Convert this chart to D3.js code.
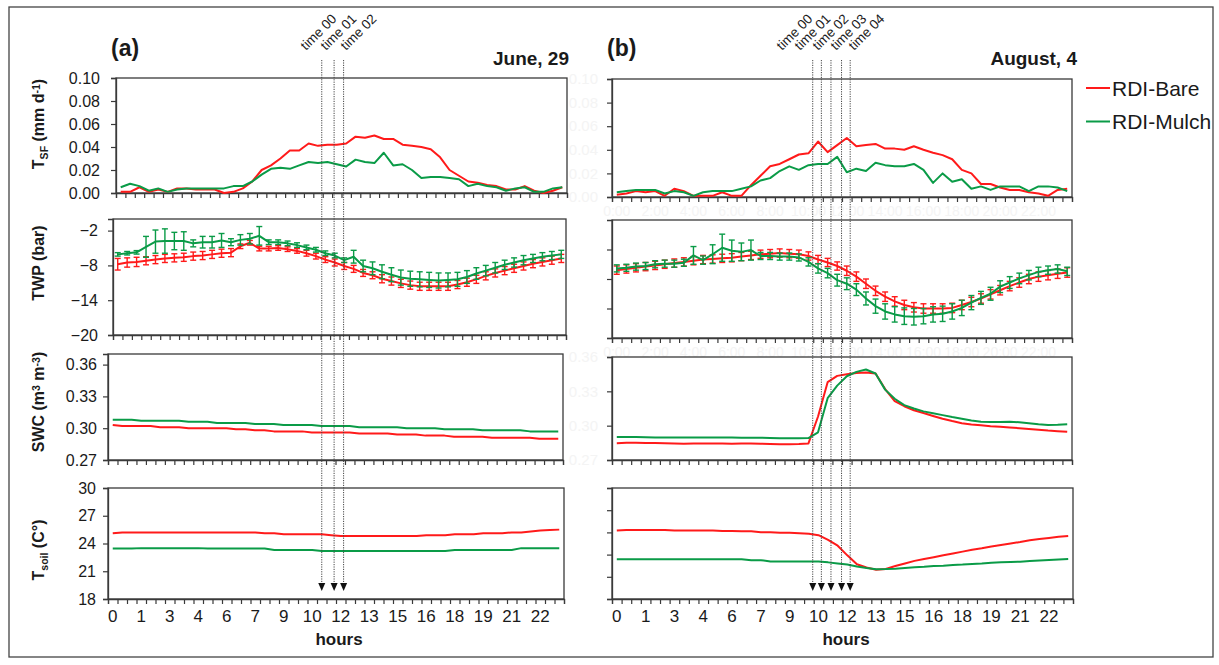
<!DOCTYPE html>
<html>
<head>
<meta charset="utf-8">
<script src="https://cdn.jsdelivr.net/npm/d3@7"></script>
<style>
  body { margin: 0; background: #fff; }
  svg { display: block; font-family: "Liberation Sans", Arial, Helvetica, sans-serif; }
</style>
</head>
<body>
<svg width="1219" height="665"></svg>
<script>
// half-hour slots of the day (categories of every panel)
const slots = ["0:00","0:30","1:00","1:30","2:00","2:30","3:00","3:30","4:00","4:30","5:00","5:30",
  "6:00","6:30","7:00","7:30","8:00","8:30","9:00","9:30","10:00","10:30","11:00","11:30",
  "12:00","12:30","13:00","13:30","14:00","14:30","15:00","15:30","16:00","16:30","17:00","17:30",
  "18:00","18:30","19:00","19:30","20:00","20:30","21:00","21:30","22:00","22:30","23:00","23:30"];
// labelled slots on the hours axis
const hourSlots = ["0:00","1:30","3:00","4:30","6:00","7:30","9:00","10:30","12:00","13:30","15:00","16:30","18:00","19:30","21:00","22:30"];
const hourLabels = ["0","1","3","4","6","7","9","10","12","13","15","16","18","19","21","22"];
// faint leftover labels of panel (b)
const ghostSlots = ["0:00","2:00","4:00","6:00","8:00","10:00","12:00","14:00","16:00","18:00","20:00","22:00"];

const seriesNames = ["RDI-Bare", "RDI-Mulch"];
const colors = ["#ff1a1a", "#0a9b47"];

// y ticks
const tsfTicks = [0, 0.02, 0.04, 0.06, 0.08, 0.10];
const twpTicksJune = [-2, -8, -14, -20];
const twpTicksAug = [-5, -10, -15, -20];
const swcTicks = [0.27, 0.30, 0.33, 0.36];
const tsoilTicksJune = [18, 21, 24, 27, 30];
const tsoilTicksAug = [15, 18, 21, 24, 27, 30];

// ---- June 29 ----
const juneTsfBare = [0.001,0.001,0.005,0.001,0.003,0.001,0.004,0.004,0.003,0.003,0.003,0.000,0.001,0.004,0.010,0.020,
  0.024,0.030,0.037,0.037,0.043,0.041,0.042,0.042,0.043,0.049,0.048,0.050,0.047,0.047,0.042,0.041,
  0.040,0.038,0.031,0.020,0.015,0.010,0.009,0.007,0.006,0.003,0.003,0.006,0.002,0.000,0.002,0.005];
const juneTsfMulch = [0.005,0.008,0.006,0.002,0.004,0.001,0.003,0.004,0.004,0.004,0.004,0.004,0.006,0.006,0.010,0.016,
  0.021,0.022,0.021,0.024,0.027,0.026,0.027,0.025,0.023,0.029,0.027,0.026,0.035,0.024,0.025,0.020,
  0.013,0.014,0.014,0.013,0.012,0.006,0.008,0.006,0.005,0.002,0.004,0.005,0.001,0.001,0.004,0.005];
const juneTwpBare = [-7.8,-7.5,-7.4,-7.2,-7.0,-6.8,-6.7,-6.6,-6.4,-6.3,-6.1,-5.9,-5.8,-4.7,-4.1,-5.1,
  -5.1,-5.0,-5.2,-5.5,-5.9,-6.4,-7.0,-7.5,-8.1,-8.6,-9.3,-9.7,-10.3,-10.7,-11.1,-11.4,
  -11.6,-11.6,-11.6,-11.6,-11.3,-10.9,-10.4,-9.8,-9.3,-8.9,-8.5,-8.1,-7.7,-7.4,-7.1,-6.8];
const juneTwpMulch = [-6.1,-5.9,-5.75,-4.8,-3.9,-3.8,-3.8,-3.8,-4.2,-4.0,-4.0,-3.7,-4.0,-3.6,-3.4,-2.9,
  -4.0,-4.0,-4.2,-4.5,-4.9,-5.3,-5.9,-6.3,-7.1,-6.5,-8.1,-8.5,-9.1,-9.6,-10.1,-10.3,
  -10.4,-10.5,-10.6,-10.5,-10.4,-10.0,-9.4,-8.9,-8.4,-7.9,-7.5,-7.1,-6.8,-6.5,-6.3,-6.1];
const juneTwpBareErr = [1.0,0.8,0.8,0.7,0.7,0.7,0.7,0.7,0.7,0.7,0.7,0.7,0.7,0.4,0.4,0.4,
  0.4,0.4,0.4,0.4,0.5,0.5,0.5,0.6,0.6,0.6,0.6,0.6,0.7,0.7,0.7,0.7,
  0.7,0.7,0.7,0.7,0.7,0.7,0.7,0.7,0.7,0.7,0.7,0.7,0.7,0.7,0.7,0.7];
const juneTwpMulchErr = [0.3,0.3,0.3,1.8,2.0,2.1,1.5,1.6,0.6,1.0,1.0,1.2,0.6,0.9,0.9,1.6,
  0.4,0.4,0.4,0.4,0.4,0.4,0.4,0.4,0.4,1.1,1.0,1.1,1.2,1.2,1.3,1.3,
  1.3,1.3,1.3,1.2,1.2,1.1,1.0,0.9,0.9,0.8,0.8,0.8,0.7,0.7,0.7,0.7];
const juneSwcBare = [0.303,0.302,0.302,0.302,0.302,0.301,0.301,0.301,0.300,0.300,0.300,0.300,0.300,0.299,0.299,0.298,
  0.298,0.297,0.297,0.297,0.297,0.296,0.296,0.296,0.296,0.296,0.295,0.295,0.295,0.295,0.294,0.294,
  0.294,0.293,0.293,0.293,0.292,0.292,0.292,0.292,0.291,0.291,0.291,0.291,0.291,0.290,0.290,0.290];
const juneSwcMulch = [0.308,0.308,0.308,0.307,0.307,0.307,0.307,0.307,0.306,0.306,0.306,0.305,0.305,0.305,0.305,0.304,
  0.304,0.304,0.303,0.303,0.303,0.303,0.302,0.302,0.302,0.302,0.301,0.301,0.301,0.301,0.301,0.300,
  0.300,0.300,0.300,0.299,0.299,0.299,0.299,0.298,0.298,0.298,0.298,0.298,0.297,0.297,0.297,0.297];
const juneTsoilBare = [25.1,25.2,25.2,25.2,25.2,25.2,25.2,25.2,25.2,25.2,25.2,25.2,25.2,25.2,25.2,25.2,
  25.1,25.1,25.0,25.0,25.0,25.0,25.0,24.9,24.8,24.8,24.8,24.8,24.8,24.8,24.8,24.8,
  24.8,24.9,24.9,24.9,25.0,25.0,25.0,25.1,25.1,25.1,25.2,25.2,25.3,25.4,25.45,25.5];
const juneTsoilMulch = [23.45,23.45,23.45,23.5,23.5,23.5,23.5,23.5,23.5,23.5,23.45,23.45,23.45,23.45,23.45,23.45,
  23.45,23.3,23.3,23.3,23.3,23.3,23.2,23.2,23.2,23.2,23.2,23.2,23.2,23.2,23.2,23.2,
  23.2,23.2,23.2,23.2,23.3,23.3,23.3,23.3,23.3,23.3,23.3,23.5,23.5,23.5,23.5,23.5];
const juneTimes = ["time 00", "time 01", "time 02"];
const juneTimeHours = [11.0, 11.65, 12.15];

// ---- August 4 ----
const augTsfBare = [0.002,0.003,0.005,0.004,0.005,0.001,0.007,0.005,0.001,0.001,0.001,0.004,0.001,0.001,0.010,0.018,
  0.026,0.028,0.032,0.036,0.037,0.047,0.038,0.044,0.050,0.043,0.044,0.045,0.041,0.041,0.040,0.043,
  0.040,0.0375,0.0355,0.032,0.023,0.020,0.011,0.011,0.008,0.006,0.006,0.004,0.003,0.001,0.006,0.007];
const augTsfMulch = [0.004,0.005,0.006,0.006,0.006,0.003,0.005,0.004,0.001,0.004,0.005,0.005,0.005,0.007,0.009,0.014,
  0.016,0.022,0.026,0.023,0.027,0.028,0.028,0.034,0.021,0.024,0.022,0.029,0.027,0.026,0.026,0.028,
  0.023,0.012,0.020,0.013,0.015,0.007,0.009,0.006,0.009,0.009,0.009,0.005,0.009,0.009,0.008,0.005];
const augTwpBare = [-8.5,-8.3,-8.1,-7.9,-7.7,-7.5,-7.3,-7.1,-6.9,-6.7,-6.6,-6.5,-6.4,-6.2,-6.0,-5.8,
  -5.7,-5.6,-5.7,-5.8,-6.1,-6.7,-7.2,-7.8,-8.6,-9.6,-10.8,-12.0,-13.0,-13.8,-14.4,-14.8,
  -15.0,-15.0,-15.0,-14.9,-14.4,-13.9,-13.3,-12.6,-11.9,-11.2,-10.6,-10.0,-9.6,-9.35,-9.1,-8.9];
const augTwpMulch = [-8.2,-8.1,-7.9,-7.8,-7.5,-7.4,-7.4,-7.25,-6.0,-6.8,-5.8,-4.7,-5.2,-5.4,-5.1,-6.1,
  -6.1,-6.2,-6.2,-6.35,-7.1,-8.2,-9.0,-10.2,-10.8,-11.8,-13.3,-14.6,-15.5,-16.0,-16.3,-16.4,
  -16.3,-16.0,-15.9,-15.5,-14.9,-14.0,-13.2,-12.5,-11.3,-10.6,-9.9,-9.35,-8.8,-8.5,-8.3,-8.7];
const augTwpBareErr = [0.7,0.7,0.7,0.7,0.7,0.7,0.7,0.7,0.7,0.7,0.7,0.7,0.7,0.7,0.7,0.7,
  0.7,0.7,0.7,0.7,0.7,0.7,0.7,0.7,0.8,0.8,0.8,0.8,0.8,0.8,0.8,0.8,
  0.8,0.8,0.8,0.8,0.8,0.8,0.8,0.8,0.8,0.8,0.8,0.8,0.8,0.8,0.8,0.8];
const augTwpMulchErr = [0.6,0.6,0.6,0.6,0.6,0.6,0.6,0.6,1.5,0.7,1.6,2.3,1.8,1.5,1.7,0.6,
  0.6,0.6,0.6,0.6,0.7,0.8,0.8,1.0,1.0,1.0,1.1,1.2,1.3,1.3,1.4,1.4,
  1.3,1.3,1.3,1.3,1.3,1.2,1.1,1.1,1.0,1.0,0.9,0.8,0.8,0.7,0.7,0.7];
const augSwcBare = [0.2847,0.2850,0.2850,0.2848,0.2848,0.2847,0.2845,0.2843,0.2845,0.2845,0.2845,0.2845,0.2843,0.2845,0.2845,0.2843,
  0.2840,0.2838,0.2838,0.2840,0.2845,0.308,0.338,0.3435,0.345,0.346,0.3465,0.3456,0.332,0.3215,0.317,0.3135,
  0.311,0.3085,0.306,0.304,0.3022,0.301,0.3003,0.2995,0.299,0.2984,0.2978,0.2971,0.2964,0.2957,0.2952,0.2947];
const augSwcMulch = [0.2900,0.2900,0.2900,0.2898,0.2897,0.2897,0.2897,0.2897,0.2897,0.2897,0.2897,0.2897,0.2896,0.2895,0.2895,0.2895,
  0.2893,0.2890,0.2889,0.2889,0.2892,0.2942,0.324,0.335,0.3432,0.347,0.3491,0.3456,0.3315,0.3235,0.318,0.315,
  0.3125,0.3108,0.3092,0.3075,0.306,0.3045,0.3035,0.3031,0.3032,0.3035,0.303,0.3021,0.3012,0.3006,0.3008,0.3012];
const augTsoilBare = [24.27,24.33,24.33,24.33,24.33,24.33,24.27,24.27,24.27,24.27,24.27,24.2,24.2,24.14,24.14,24.01,
  24.01,23.95,23.95,23.88,23.82,23.63,23.0,22.2,20.9,19.7,19.25,18.94,19.05,19.45,19.8,20.15,
  20.4,20.65,20.9,21.15,21.4,21.65,21.85,22.1,22.3,22.5,22.7,22.95,23.1,23.25,23.4,23.5];
const augTsoilMulch = [20.38,20.38,20.38,20.38,20.38,20.38,20.38,20.38,20.38,20.38,20.38,20.38,20.38,20.38,20.25,20.25,
  20.06,20.06,20.06,20.06,20.06,20.06,19.95,19.8,19.65,19.4,19.2,19.03,19.05,19.1,19.2,19.3,
  19.35,19.45,19.5,19.6,19.65,19.73,19.8,19.9,19.95,20.0,20.05,20.15,20.2,20.27,20.35,20.42];
const augTimes = ["time 00", "time 01", "time 02", "time 03", "time 04"];
const augTimeHours = [10.2, 10.65, 11.15, 11.7, 12.15];

// ---- layout ----
const rowFormats = [d3.format(".2f"), d3.format("d"), d3.format(".2f"), d3.format("d")];
const rowPadding = [11, 10, 6, 7];

const days = [
  {
    tag: "(a)", date: "June, 29", tagX: 111, dateX: 569, labels: true,
    frames: [[116, 567, 78, 193], [113, 566, 219, 335], [108, 563, 354, 460], [108, 564, 488, 599]],
    domains: [[0, 0.1], [-20, 0], [0.27, 0.37], [18, 30]],
    ticks: [tsfTicks, twpTicksJune, swcTicks, tsoilTicksJune],
    data: [[juneTsfBare, juneTsfMulch], [juneTwpBare, juneTwpMulch], [juneSwcBare, juneSwcMulch], [juneTsoilBare, juneTsoilMulch]],
    err: [juneTwpBareErr, juneTwpMulchErr],
    times: juneTimes, timeHours: juneTimeHours, timeLabelX: 306, timeLabelStep: 20,
    hoursX: 339
  },
  {
    tag: "(b)", date: "August, 4", tagX: 607, dateX: 1077, labels: false,
    frames: [[612, 1072, 79, 197], [612, 1072, 220, 338], [612, 1072, 357, 460], [612, 1073, 488, 599]],
    domains: [[0, 0.1], [-20, 0], [0.27, 0.36], [15, 30]],
    ticks: [tsfTicks, twpTicksAug, swcTicks, tsoilTicksAug],
    data: [[augTsfBare, augTsfMulch], [augTwpBare, augTwpMulch], [augSwcBare, augSwcMulch], [augTsoilBare, augTsoilMulch]],
    err: [augTwpBareErr, augTwpMulchErr],
    times: augTimes, timeHours: augTimeHours, timeLabelX: 782, timeLabelStep: 18,
    hoursX: 846
  }
];

const svg = d3.select("svg");
const axisColor = "#3a3a3a";
const textColor = "#1a1a1a";

// outer frame
svg.append("rect")
  .attr("x", 9).attr("y", 7).attr("width", 1204).attr("height", 650)
  .attr("fill", "none").attr("stroke", "#444").attr("stroke-width", 1.3);

days.forEach(day => {
  const g = svg.append("g");

  // ghost labels left over in panel (b), barely visible
  if (!day.labels) {
    const ghost = g.append("g").attr("fill", "#f4f4f4").attr("font-size", 15);
    [0, 2].forEach(r => {
      const f = day.frames[r];
      const y = d3.scaleLinear().domain(day.domains[r]).range([f[3], f[2]]);
      ghost.selectAll(null).data(day.ticks[r]).enter().append("text")
        .attr("x", 598).attr("y", d => y(d)).attr("dy", "0.35em")
        .attr("text-anchor", "end").text(d => d3.format(".2f")(d));
    });
    [0, 1].forEach(r => {
      const f = day.frames[r];
      const x = d3.scaleBand().domain(slots).range([f[0], f[1]]);
      ghost.selectAll(null).data(ghostSlots).enter().append("text")
        .attr("x", d => x(d) + x.bandwidth() / 2).attr("y", f[3] + 19)
        .attr("font-size", 14).attr("text-anchor", "middle").text(d => d);
    });
  }

  day.frames.forEach((f, r) => {
    const x = d3.scaleBand().domain(slots).range([f[0], f[1]]);
    const xEdge = d3.scaleLinear().domain([0, slots.length]).range([f[0], f[1]]);
    const y = d3.scaleLinear().domain(day.domains[r]).range([f[3], f[2]]);
    const cx = s => x(s) + x.bandwidth() / 2;

    // frame
    g.append("rect")
      .attr("x", f[0]).attr("y", f[2]).attr("width", f[1] - f[0]).attr("height", f[3] - f[2])
      .attr("fill", "none").attr("stroke", axisColor).attr("stroke-width", 1.3);

    // y axis
    const yAxis = d3.axisLeft(y).tickValues(day.ticks[r]).tickSize(5).tickPadding(rowPadding[r])
      .tickFormat(day.labels ? rowFormats[r] : "");
    const ya = g.append("g").attr("transform", `translate(${f[0]},0)`).call(yAxis);
    ya.select(".domain").attr("stroke", axisColor).attr("stroke-width", 1.3);
    ya.selectAll(".tick line").attr("stroke", axisColor).attr("stroke-width", 1.2);
    ya.selectAll(".tick text").attr("font-size", 16).attr("fill", textColor)
      .attr("font-family", "Liberation Sans, Arial, sans-serif");

    // x ticks at slot edges
    const xAxis = d3.axisBottom(xEdge).tickValues(d3.range(slots.length + 1)).tickSize(5).tickFormat("");
    const xa = g.append("g").attr("transform", `translate(0,${f[3]})`).call(xAxis);
    xa.select(".domain").attr("stroke", axisColor).attr("stroke-width", 1.3);
    xa.selectAll(".tick line").attr("stroke", axisColor).attr("stroke-width", 1.2);

    // hour labels under the soil temperature panel
    if (r === 3) {
      const hAxis = d3.axisBottom(x).tickValues(hourSlots).tickSize(0).tickPadding(11)
        .tickFormat(s => hourLabels[hourSlots.indexOf(s)]);
      const ha = g.append("g").attr("transform", `translate(0,${f[3]})`).call(hAxis);
      ha.select(".domain").remove();
      ha.selectAll(".tick text").attr("font-size", 17).attr("fill", textColor)
        .attr("font-family", "Liberation Sans, Arial, sans-serif");
    }

    // series
    day.data[r].forEach((vals, s) => {
      if (r === 1) {
        const e = day.err[s];
        const eg = g.append("g").attr("stroke", colors[s]).attr("stroke-width", 1.4);
        vals.forEach((v, i) => {
          const px = cx(slots[i]);
          eg.append("line").attr("x1", px).attr("x2", px).attr("y1", y(v - e[i])).attr("y2", y(v + e[i]));
          eg.append("line").attr("x1", px - 3).attr("x2", px + 3).attr("y1", y(v - e[i])).attr("y2", y(v - e[i]));
          eg.append("line").attr("x1", px - 3).attr("x2", px + 3).attr("y1", y(v + e[i])).attr("y2", y(v + e[i]));
        });
      }
      const line = d3.line().x((v, i) => cx(slots[i])).y(v => y(v));
      g.append("path").datum(vals).attr("d", line)
        .attr("fill", "none").attr("stroke", colors[s]).attr("stroke-width", 2)
        .attr("stroke-linejoin", "round");
    });
  });

  // titles
  g.append("text").attr("x", day.tagX).attr("y", 56).attr("font-size", 23).attr("font-weight", "bold")
    .attr("fill", textColor).text(day.tag);
  g.append("text").attr("x", day.dateX).attr("y", 65).attr("font-size", 19).attr("font-weight", "bold")
    .attr("text-anchor", "end").attr("fill", textColor).text(day.date);

  // hours title
  g.append("text").attr("x", day.hoursX).attr("y", 645).attr("font-size", 17).attr("font-weight", "bold")
    .attr("text-anchor", "middle").attr("fill", textColor).text("hours");

  // sampling times: dotted lines with arrows
  const tf = day.frames[3];
  const tx = d3.scaleLinear().domain([0, 24]).range([tf[0], tf[1]]);
  const tg = g.append("g");
  day.timeHours.forEach((h, k) => {
    const px = tx(h + 0.25);
    tg.append("line").attr("x1", px).attr("x2", px).attr("y1", 60).attr("y2", 585)
      .attr("stroke", "#444").attr("stroke-width", 1).attr("stroke-dasharray", "1.2,1.2");
    tg.append("path").attr("d", `M${px - 3.5},583L${px + 3.5},583L${px},591Z`).attr("fill", "#111");
    const lx = day.timeLabelX + k * day.timeLabelStep;
    tg.append("text").attr("transform", `translate(${lx},51) rotate(-45)`)
      .attr("font-size", 13.5).attr("fill", textColor).text(day.times[k]);
  });
});

// y axis titles (left day only)
const yTitles = [
  { cy: 124, parts: [["T", 0], ["SF", 1], [" (mm d", 0], ["-1", -1], [")", 0]] },
  { cy: 263, parts: [["TWP (bar)", 0]] },
  { cy: 402, parts: [["SWC (m", 0], ["3", -1], [" m", 0], ["-3", -1], [")", 0]] },
  { cy: 550, parts: [["T", 0], ["soil", 1], [" (C°)", 0]] }
];
yTitles.forEach(t => {
  const txt = svg.append("text")
    .attr("transform", `translate(44,${t.cy}) rotate(-90)`)
    .attr("text-anchor", "middle").attr("font-size", 16).attr("font-weight", "bold").attr("fill", textColor);
  let shift = 0;
  t.parts.forEach(([s, pos]) => {
    const dy = pos * 4 - shift;
    shift = pos * 4;
    txt.append("tspan").attr("dy", dy).attr("font-size", pos === 0 ? 16 : 10.5).text(s);
  });
});

// legend
const lg = svg.append("g");
seriesNames.forEach((name, s) => {
  const ly = 88 + s * 33.5;
  lg.append("line").attr("x1", 1086).attr("x2", 1110).attr("y1", ly).attr("y2", ly)
    .attr("stroke", colors[s]).attr("stroke-width", 2);
  lg.append("text").attr("x", 1112).attr("y", ly + 7.5).attr("font-size", 21).attr("fill", textColor).text(name);
});
</script>
</body>
</html>
